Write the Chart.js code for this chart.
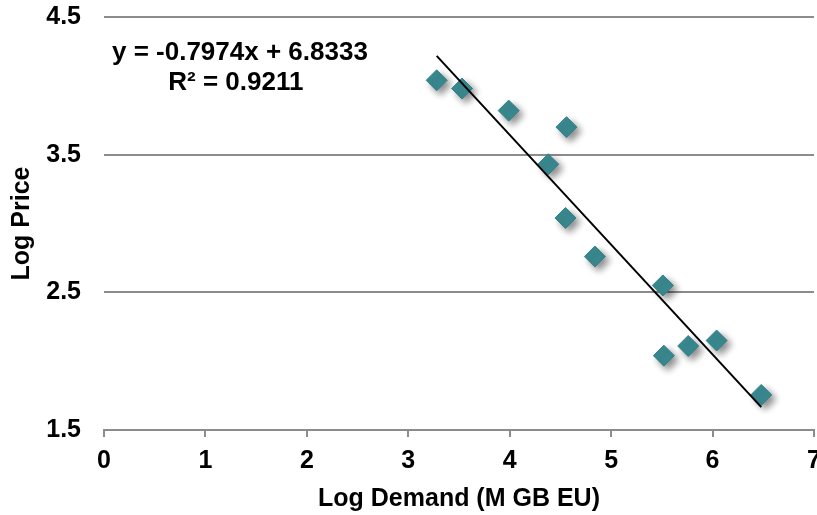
<!DOCTYPE html>
<html>
<head>
<meta charset="utf-8">
<script src="https://cdn.jsdelivr.net/npm/chart.js@4.4.0/dist/chart.umd.min.js"></script>
<style>
html, body { margin: 0; padding: 0; background: #fff; }
#wrap { width: 817px; height: 515px; }
</style>
</head>
<body>
<div id="wrap"><canvas id="chart" width="817" height="515"></canvas></div>
<script>
// Data
const logDemand = [3.28, 3.53, 3.99, 4.56, 4.38, 4.55, 4.84, 5.51, 5.52, 5.76, 6.04, 6.48];
const logPrice = [4.04, 3.98, 3.82, 3.70, 3.43, 3.04, 2.76, 2.55, 2.04, 2.11, 2.15, 1.755];
const trendX = [3.28, 6.48];
const trendY = [4.218, 1.666];
const xTicks = [0, 1, 2, 3, 4, 5, 6, 7];
const yTicks = [1.5, 2.5, 3.5, 4.5];
const equationText = ['y = -0.7974x + 6.8333', 'R\u00B2 = 0.9211'];
const equationX = [1.34, 1.30];
const equationY = [4.239, 4.021];

const FONT = '"Liberation Sans", Arial, sans-serif';
const gridGray = '#8c8c8c';
const teal = '#3a8a91';

// Shadow under the markers
const markerShadow = {
    id: 'markerShadow',
    beforeDatasetDraw(chart, args) {
        if (args.index !== 1) return;
        const ctx = chart.ctx;
        ctx.save();
        ctx.shadowColor = 'rgba(0,0,0,0.45)';
        ctx.shadowBlur = 7;
        ctx.shadowOffsetX = 4;
        ctx.shadowOffsetY = 4;
    },
    afterDatasetDraw(chart, args) {
        if (args.index !== 1) return;
        chart.ctx.restore();
    }
};

// Trendline equation label
const equationLabel = {
    id: 'equationLabel',
    afterDraw(chart) {
        const ctx = chart.ctx;
        const sx = chart.scales.x;
        const sy = chart.scales.y;
        ctx.save();
        ctx.font = 'bold 26px ' + FONT;
        ctx.fillStyle = '#000';
        ctx.textAlign = 'center';
        ctx.textBaseline = 'middle';
        equationText.forEach((t, i) => {
            ctx.fillText(t, sx.getPixelForValue(equationX[i]), sy.getPixelForValue(equationY[i]));
        });
        ctx.restore();
    }
};

const points = logDemand.map((d, i) => ({ x: d, y: logPrice[i] }));
const trend = trendX.map((d, i) => ({ x: d, y: trendY[i] }));

const ctx = document.getElementById('chart').getContext('2d');
const chart = new Chart(ctx, {
    type: 'scatter',
    data: {
        datasets: [{
            label: 'Linear',
            data: trend,
            showLine: true,
            borderColor: '#000',
            borderWidth: 2,
            pointRadius: 0,
            fill: false
        }, {
            label: 'Log Price',
            data: points,
            pointStyle: 'rectRot',
            pointRadius: 10.5,
            pointHoverRadius: 10.5,
            backgroundColor: teal,
            borderColor: '#35808a',
            borderWidth: 1,
            clip: false
        }]
    },
    options: {
        responsive: false,
        animation: false,
        layout: { autoPadding: false, padding: { top: 17, right: 3, left: 0, bottom: 0 } },
        plugins: {
            legend: { display: false },
            tooltip: { enabled: false }
        },
        scales: {
            x: {
                type: 'linear',
                min: 0,
                max: 7,
                afterBuildTicks: s => { s.ticks = xTicks.map(v => ({ value: v })); },
                afterFit: s => { s.height = 85; s.paddingLeft = 0; s.paddingRight = 0; },
                ticks: { color: '#000', font: { family: FONT, size: 25, weight: 'bold' }, padding: 9 },
                grid: { drawOnChartArea: false, drawTicks: true, tickLength: 7, color: gridGray, lineWidth: 2 },
                border: { display: true, color: gridGray, width: 2 },
                title: {
                    display: true,
                    text: 'Log Demand (M GB EU)',
                    color: '#000',
                    font: { family: FONT, size: 25, weight: 'bold' },
                    padding: { top: 0, bottom: 1 }
                }
            },
            y: {
                type: 'linear',
                min: 1.5,
                max: 4.5,
                afterBuildTicks: s => { s.ticks = yTicks.map(v => ({ value: v })); },
                afterFit: s => { s.width = 104; s.paddingTop = 0; s.paddingBottom = 0; },
                ticks: { color: '#000', font: { family: FONT, size: 25, weight: 'bold' }, padding: 23 },
                grid: { color: gridGray, lineWidth: 2, drawTicks: false },
                border: { display: false },
                title: {
                    display: true,
                    text: 'Log Price',
                    color: '#000',
                    font: { family: FONT, size: 25, weight: 'bold' },
                    padding: { top: 7, bottom: 0 }
                }
            }
        }
    },
    plugins: [markerShadow, equationLabel]
});
</script>
</body>
</html>
